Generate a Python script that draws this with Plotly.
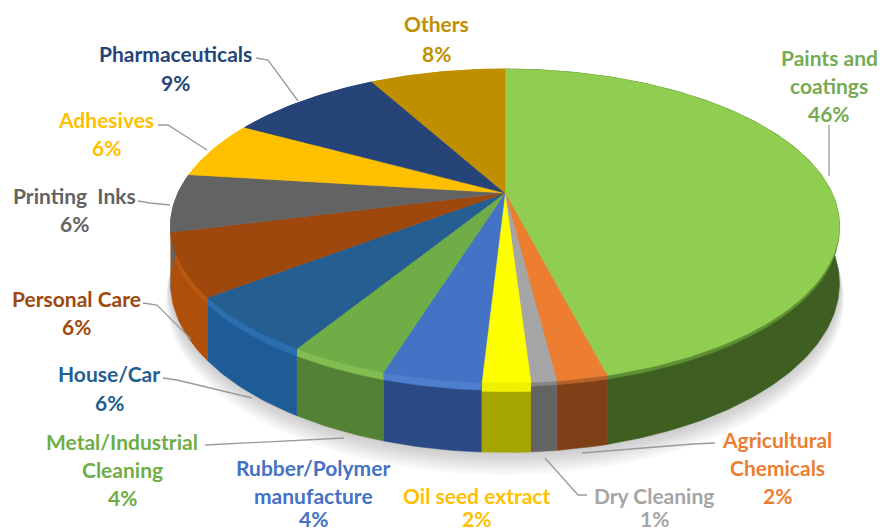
import numpy as np
import plotly.graph_objects as go

# 数据：顺时针，从正上方开始（标签是四舍五入后的，扇区按图上读数）
sectors = ["Paints and coatings", "Agricultural Chemicals", "Dry Cleaning", "Oil seed extract",
           "Rubber/Polymer manufacture", "Metal/Industrial Cleaning", "House/Car", "Personal Care",
           "Printing Inks", "Adhesives", "Pharmaceuticals", "Others"]
shares = [46, 2, 1, 1.9, 3.9, 3.95, 5.85, 6.4, 6, 6, 9, 8]
top_colors = ["#8FCE50", "#ED7D31", "#A5A5A5", "#FFFF00", "#4472C4", "#70AD47",
              "#255E91", "#9E480E", "#636363", "#FFC000", "#264478", "#BF8F00"]
rim_colors = ["#5F8F35", "#B5622A", "#858585", "#F0F000", "#4F7ECF", "#82BD52",
              "#2B6FAE", "#B8590E", "#636363", "#FFC000", "#264478", "#BF8F00"]
rim_heights = [3, 3, 3, 7, 6, 6, 6, 6, 3, 3, 3, 3]
side_colors = ["#3F5F22", "#7F3F17", "#636363", "#A5A500", "#2B4A85", "#548235",
               "#1E5C98", "#AE500C", "#636363", "#FFC000", "#264478", "#BF8F00"]

# 标签文字，每行单独放
label_lines = [
    ("Paints and", 829, 57, "#76AB55"), ("coatings", 829, 85, "#76AB55"), ("46%", 829, 113, "#76AB55"),
    ("Agricultural", 777, 439, "#ED7D31"), ("Chemicals", 777, 467, "#ED7D31"), ("2%", 777, 495, "#ED7D31"),
    ("Dry Cleaning", 654, 495, "#A5A5A5"), ("1%", 654, 518, "#A5A5A5"),
    ("Oil seed extract", 476, 495, "#FFC000"), ("2%", 476, 518, "#FFC000"),
    ("Rubber/Polymer", 313, 467, "#4472C4"), ("manufacture", 313, 495, "#4472C4"), ("4%", 313, 518, "#4472C4"),
    ("Metal/Industrial", 122, 441, "#70AD47"), ("Cleaning", 122, 469, "#70AD47"), ("4%", 122, 497, "#70AD47"),
    ("House/Car", 109, 373, "#255E91"), ("6%", 109, 402, "#255E91"),
    ("Personal Care", 76, 298, "#9E480E"), ("6%", 76, 326, "#9E480E"),
    ("Printing  Inks", 74, 195, "#636363"), ("6%", 74, 223, "#636363"),
    ("Adhesives", 106, 119, "#FFC000"), ("6%", 106, 147, "#FFC000"),
    ("Pharmaceuticals", 175, 53, "#264478"), ("9%", 175, 82, "#264478"),
    ("Others", 436, 23, "#BF8F00"), ("8%", 436, 53, "#BF8F00"),
]

# 引导线
leaders = [
    [(829, 125), (829, 176)],
    [(715, 443), (693, 444), (582, 453)],
    [(587, 495), (578, 495), (545, 458)],
    [(205, 445), (344, 438)],
    [(163, 378), (177, 380), (252, 398)],
    [(143, 303), (157, 305), (191, 339)],
    [(138, 201), (150, 203), (170, 205)],
    [(158, 125), (168, 125), (207, 150)],
    [(256, 58), (268, 60), (298, 101)],
]

# 透视参数（图上像素）
CX, CY = 505, 193
A, B, P = 327, 150, 0.21
DEPTH = 55


def project(theta, scale=1.0, lift=0.0):
    d = 1 + P * scale * np.cos(theta)
    return CX + A * scale * np.sin(theta) / d, CY - B * scale * np.cos(theta) / d + lift / d


def add_poly(fig, xs, ys, color):
    fig.add_trace(go.Scatter(x=xs, y=ys, mode="lines", fill="toself", fillcolor=color,
                             line=dict(color=color, width=0.5), hoverinfo="skip"))


def add_band(fig, t0, t1, lift0, lift1, color):
    t = np.linspace(t0, t1, max(int((t1 - t0) * 60), 4))
    x0, y0 = project(t, lift=lift0)
    x1, y1 = project(t[::-1], lift=lift1)
    add_poly(fig, np.r_[x0, x1], np.r_[y0, y1], color)


fig = go.Figure()

# 底部柔和阴影
t_all = np.linspace(0, 2 * np.pi, 240)
for i in range(10):
    xs, ys = project(t_all, scale=1.0 + 0.0012 * (10 - i), lift=DEPTH + 1.5 * (10 - i))
    add_poly(fig, xs, ys, "rgba(90,90,90,0.03)")

edges = 2 * np.pi * np.cumsum([0] + shares) / sum(shares)

# 侧面（后面的部分被顶面盖住）
for k in range(len(shares)):
    add_band(fig, edges[k], edges[k + 1], 0, DEPTH, side_colors[k])
    add_band(fig, edges[k], edges[k + 1], 0, rim_heights[k], rim_colors[k])

# 顶面
for k in range(len(shares)):
    t = np.linspace(edges[k], edges[k + 1], max(int((edges[k + 1] - edges[k]) * 60), 4))
    xs, ys = project(t)
    add_poly(fig, np.r_[CX, xs, CX], np.r_[CY, ys, CY], top_colors[k])

for pts in leaders:
    fig.add_trace(go.Scatter(x=[p[0] for p in pts], y=[p[1] for p in pts], mode="lines",
                             line=dict(color="#9A9A9A", width=1.3), hoverinfo="skip"))

for text, x, y, color in label_lines:
    fig.add_annotation(x=x, y=y, text=f"<b>{text}</b>", showarrow=False, xanchor="center", yanchor="middle",
                       font=dict(family="Lato", size=21, color=color))

fig.update_layout(
    width=880, height=531, margin=dict(l=0, r=0, t=0, b=0),
    paper_bgcolor="white", plot_bgcolor="white", showlegend=False,
    xaxis=dict(range=[0, 880], visible=False, fixedrange=True),
    yaxis=dict(range=[531, 0], visible=False, fixedrange=True),
)
fig.write_html("out.html", config={"displayModeBar": False}, post_script="document.body.style.margin='0';")
